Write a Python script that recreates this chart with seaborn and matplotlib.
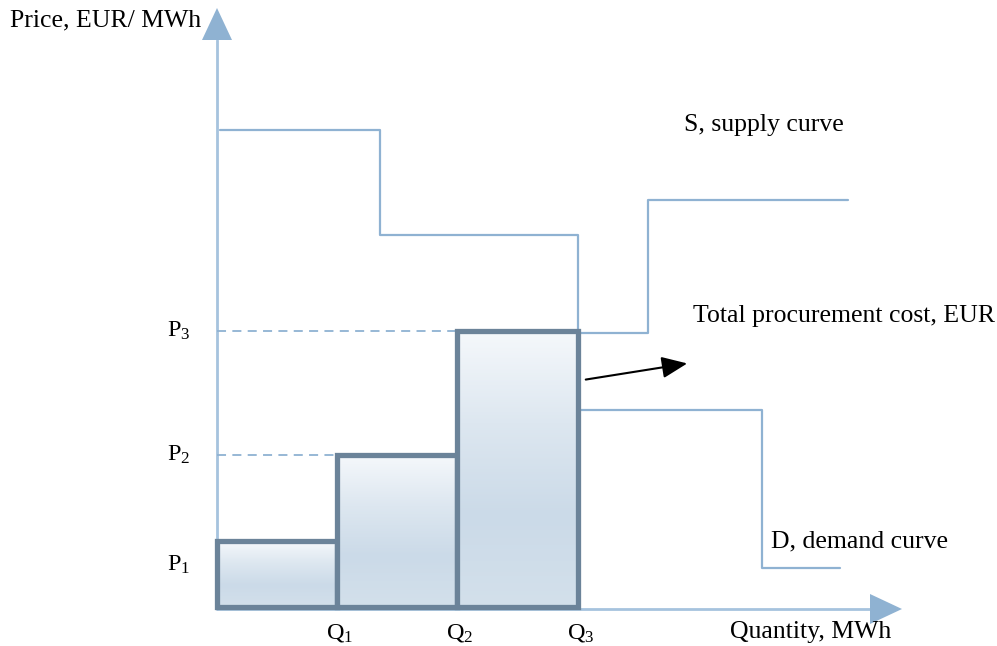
import numpy as np
import matplotlib.pyplot as plt
import seaborn as sns
import pandas as pd
from matplotlib.colors import LinearSegmentedColormap

sns.set_theme(style="white")
plt.rcParams['font.family'] = ['Liberation Serif', 'DejaVu Serif']
plt.rcParams['text.color'] = 'black'
plt.rcParams['mathtext.fontset'] = 'custom'
plt.rcParams['mathtext.rm'] = 'Liberation Serif'
plt.rcParams['mathtext.it'] = 'Liberation Serif:italic'

# quantity steps (bar edges) and price levels of the accepted bids
q_edges = [0, 120, 240, 361]
prices = [66, 152, 276]
q_labels = [r'$\mathrm{Q}_1$', r'$\mathrm{Q}_2$', r'$\mathrm{Q}_3$']
p_labels = [r'$\mathrm{P}_1$', r'$\mathrm{P}_2$', r'$\mathrm{P}_3$']

# demand curve (stepwise, decreasing)
demand_q = [3, 163, 163, 361, 361, 545, 545, 623]
demand_p = [477, 477, 372, 372, 197, 197, 39, 39]
# supply curve continuation beyond Q3
supply_q = [361, 431, 431, 631]
supply_p = [274, 274, 407, 407]

line_col = '#8fb2d2'
edge_col = '#6b8399'
fs = 18.5

fig = plt.figure(figsize=(9.97, 6.46), dpi=100)
ax = fig.add_axes([0, 0, 1, 1])
ax.set_xlim(-217, 780)
ax.set_ylim(-39, 607)
ax.axis('off')

# axes with arrow heads
ax.plot([0, 0], [-2, 567], color='#a6c3de', lw=2, zorder=1)
ax.fill([-15, 15, 0], [567, 567, 599], color=line_col, lw=0, zorder=2)
ax.plot([0, 653], [-2, -2], color='#a6c3de', lw=2, zorder=1)
ax.fill([653, 653, 685], [-17, 13, -2], color=line_col, lw=0, zorder=2)

# step curves
df_d = pd.DataFrame({'q': demand_q, 'p': demand_p})
df_s = pd.DataFrame({'q': supply_q, 'p': supply_p})
sns.lineplot(data=df_d, x='q', y='p', sort=False, estimator=None, ax=ax,
             color=line_col, lw=1.6, zorder=3)
sns.lineplot(data=df_s, x='q', y='p', sort=False, estimator=None, ax=ax,
             color=line_col, lw=1.6, zorder=3)

# dashed price guides
ax.plot([0, q_edges[1]], [prices[1], prices[1]], ls=(0, (5, 3.5)), color=line_col, lw=1.3, zorder=2)
ax.plot([0, q_edges[2]], [prices[2], prices[2]], ls=(0, (5, 3.5)), color=line_col, lw=1.3, zorder=2)

# gradient bars
cmap = LinearSegmentedColormap.from_list('g', ['#f5f8fb', '#dde7f0', '#cbdae8', '#d3e0eb'])
grad = np.linspace(0, 1, 256).reshape(-1, 1)
widths = np.diff(q_edges)
for i in range(3):
    bars = ax.bar(q_edges[i], prices[i], width=widths[i], align='edge', bottom=0,
                  facecolor='none', edgecolor=edge_col, lw=3.8, zorder=5 + i)
    im = ax.imshow(grad, cmap=cmap, aspect='auto', origin='upper',
                   extent=[q_edges[i], q_edges[i + 1], 0, prices[i]], zorder=4 + i)
    im.set_clip_path(bars.patches[0])
ax.set_xlim(-217, 780)
ax.set_ylim(-39, 607)

# labels
for q, lab in zip(q_edges[1:], q_labels):
    ax.text(q + 3, -26, lab, ha='center', va='center', fontsize=fs - 1)
for p, lab in zip([42, prices[1], prices[2]], p_labels):
    ax.text(-38, p, lab, ha='center', va='center', fontsize=fs - 1)

ax.text(-207, 587, 'Price, EUR/ MWh', ha='left', va='center', fontsize=fs)
ax.text(513, -25, 'Quantity, MWh', ha='left', va='center', fontsize=fs)
ax.text(547, 482, 'S, supply curve', ha='center', va='center', fontsize=fs)
ax.text(476, 291, 'Total procurement cost, EUR', ha='left', va='center', fontsize=fs)
ax.text(554, 66, 'D, demand curve', ha='left', va='center', fontsize=fs)

ax.annotate('', xy=(473, 244), xytext=(366, 227),
            arrowprops=dict(arrowstyle='-|>,head_length=1.3,head_width=0.55', color='black', lw=1.5))

fig.savefig('out.png', dpi=100)
